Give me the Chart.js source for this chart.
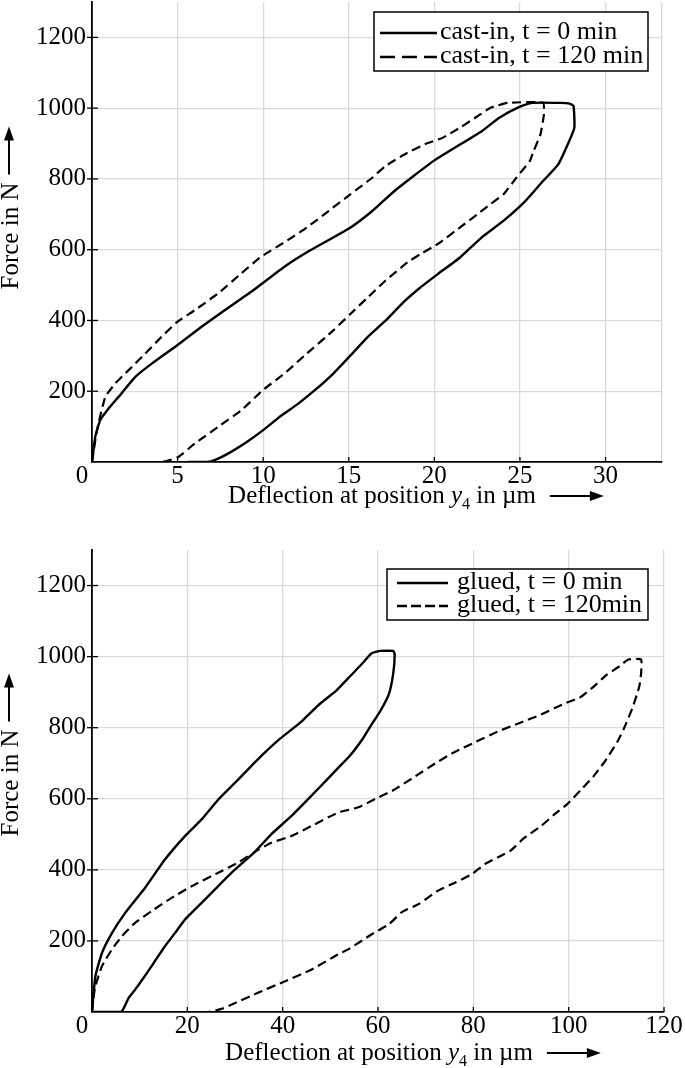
<!DOCTYPE html>
<html>
<head>
<meta charset="utf-8">
<script src="https://cdn.jsdelivr.net/npm/chart.js@4.4.0/dist/chart.umd.min.js"></script>
<style>
  html, body { margin: 0; padding: 0; background: #fff; }
  body { width: 685px; height: 1068px; position: relative; overflow: hidden; }
  canvas { position: absolute; left: 0; }
  #c1 { top: 0; }
  #c2 { top: 525px; }
</style>
</head>
<body>
<canvas id="c1" width="685" height="525"></canvas>
<canvas id="c2" width="685" height="543"></canvas>
<script>
// ---------- DATA ----------
const topLabels = ['cast-in, t = 0 min', 'cast-in, t = 120 min'];
const bottomLabels = ['glued, t = 0 min', 'glued, t = 120min'];

const topXTicks = [0, 5, 10, 15, 20, 25, 30];
const topXMax = 33.3;
const bottomXTicks = [0, 20, 40, 60, 80, 100, 120];
const bottomXMax = 120;
const yTicks = [0, 200, 400, 600, 800, 1000, 1200];
const yMax = 1300;

// cast-in, t = 0 min  [deflection µm, force N]
const castIn0 = [[0,0],[0.19,71],[0.48,118],[0.97,151],[1.55,184],[2.52,240],[3.49,278],[4.98,330],[6.4,382],[7.75,429],[9.3,481],[11.24,552],[12.56,593],[15.11,663],[16.39,710],[17.67,766],[19.96,851],[22.77,935],[23.79,973],[24.94,1003],[25.7,1015],[27.37,1015],[27.9,1013],[28.13,1006],[28.18,945],[27.88,907],[27.24,841],[26.35,794],[25.33,738],[24.05,682],[22.77,635],[21.5,578],[20.2,531],[19.2,494],[18.2,452],[17.16,400],[16.1,353],[15.1,301],[14.1,250],[13.07,205],[12.05,165],[11.03,130],[10.0,90],[9.0,55],[8.0,25],[7.2,6],[6.7,0],[5.6,0]];
// cast-in, t = 120 min
const castIn120 = [[0,0],[0.29,90],[0.78,184],[1.36,222],[2.13,259],[3.1,306],[4.07,354],[4.98,396],[6.0,429],[7.36,476],[8.72,533],[9.88,580],[11.28,622],[12.56,663],[13.84,710],[15.11,757],[16.39,804],[17.16,837],[18.43,874],[19.45,898],[20.47,916],[21.5,945],[22.52,977],[23.28,1001],[24.3,1015],[26.35,1015],[26.4,982],[26.2,926],[25.8,879],[25.58,851],[24.8,804],[24.05,757],[23.28,729],[22.52,700],[21.5,663],[20.2,616],[19.2,588],[18.43,564],[17.16,513],[16.13,466],[15.11,419],[14.1,372],[12.4,300],[11.24,250],[9.98,203],[8.72,146],[7.36,99],[6.0,52],[5.04,14],[4.3,2],[3.9,0]];
// glued, t = 0 min
const glued0 = [[0,0],[0.7,100],[2.09,166],[4.18,222],[6.97,279],[11.1,349],[15.3,429],[19.5,495],[23.0,542],[26.5,598],[30.0,645],[34.8,711],[39.45,769],[44.0,818],[47.7,866],[51.3,905],[54.1,944],[56.8,982],[58.6,1009],[60.5,1016],[63.2,1016],[63.5,1006],[63.2,953],[62.3,895],[60.5,847],[58.6,808],[56.8,769],[54.1,721],[51.3,682],[48.6,644],[46.0,608],[41.8,551],[37.6,500],[34.1,450],[29.3,392],[25.8,345],[23.0,307],[19.5,260],[17.4,222],[15.3,185],[12.5,129],[10.5,90],[9.05,63],[7.66,39],[6.1,0],[0,0]];
// glued, t = 120 min
const glued120 = [[0,0],[0.3,40],[0.7,72],[2.09,129],[4.18,176],[6.27,213],[9.05,251],[12.5,284],[16.7,321],[20.9,354],[26.5,392],[30.6,420],[34.1,450],[37.6,476],[41.8,495],[46.0,523],[51.6,561],[55.9,576],[59.5,600],[63.2,624],[67.8,663],[72.3,702],[76.0,731],[80.5,760],[85.1,789],[89.7,813],[94.2,837],[98.8,866],[102.5,886],[105.2,915],[107.9,948],[110.7,973],[112.5,992],[115.2,992],[115.2,953],[114.8,915],[113.4,856],[111.6,798],[110.2,760],[107.9,711],[105.2,663],[102.5,624],[99.7,585],[97.0,556],[94.2,523],[90.6,489],[87.9,455],[85.1,435],[82.4,416],[79.6,387],[76.0,363],[72.3,339],[68.7,305],[65.0,281],[62.3,247],[58.6,218],[54.1,179],[51.6,162],[46.0,119],[40.4,86],[34.8,54],[30.0,25],[27.0,8],[24.4,0],[14.6,0]];

// ---------- DRAWING ----------
const FONT = "'Liberation Serif', 'Times New Roman', serif";
const toPts = arr => arr.map(p => ({x: p[0], y: p[1]}));

function arrowHead(ctx, x, y) {
  ctx.beginPath(); ctx.moveTo(x, y); ctx.lineTo(x - 14, y - 5); ctx.lineTo(x - 14, y + 5); ctx.closePath(); ctx.fill();
}

const decor = {
  id: 'decor',
  afterDraw(chart, args, o) {
    const ctx = chart.ctx, a = chart.chartArea;
    const xs = chart.scales.x, ys = chart.scales.y;
    ctx.save();
    // tick marks
    ctx.strokeStyle = '#000'; ctx.lineWidth = 1.3;
    o.xTicks.forEach(v => {
      const px = xs.getPixelForValue(v);
      ctx.beginPath(); ctx.moveTo(px, a.bottom); ctx.lineTo(px, a.bottom - 5); ctx.stroke();
    });
    o.yTicks.forEach(v => {
      if (v === 0) return;
      const py = ys.getPixelForValue(v);
      ctx.beginPath(); ctx.moveTo(a.left - 5, py); ctx.lineTo(a.left + 6, py); ctx.stroke();
    });
    // origin label, set slightly left of the corner
    ctx.fillStyle = '#000';
    ctx.font = '25px ' + FONT;
    ctx.textAlign = 'center'; ctx.textBaseline = 'alphabetic';
    ctx.fillText(String(o.xTicks[0]), a.left - 10, a.bottom + 21);
    // legend box
    const L = o.legend;
    ctx.fillStyle = '#fff';
    ctx.fillRect(L.x0, L.y0, L.x1 - L.x0, L.y1 - L.y0);
    ctx.strokeStyle = '#000'; ctx.lineWidth = 1.5;
    ctx.strokeRect(L.x0, L.y0, L.x1 - L.x0, L.y1 - L.y0);
    chart.data.datasets.forEach((ds, i) => {
      const ly = L.rows[i];
      ctx.setLineDash(i === 0 ? [] : L.dash);
      ctx.lineWidth = 2.3;
      ctx.beginPath(); ctx.moveTo(L.lx0, ly); ctx.lineTo(L.lx1, ly); ctx.stroke();
      ctx.setLineDash([]);
      ctx.fillStyle = '#000';
      ctx.font = '26px ' + FONT;
      ctx.textAlign = 'left'; ctx.textBaseline = 'alphabetic';
      ctx.fillText(ds.label, L.tx, ly + 6);
    });
    // x axis title with italic y and subscript 4
    ctx.fillStyle = '#000';
    ctx.textBaseline = 'alphabetic'; ctx.textAlign = 'left';
    const parts = [
      {t: 'Deflection at position ', f: '25px ' + FONT, dy: 0},
      {t: 'y', f: 'italic 25px ' + FONT, dy: 0},
      {t: '4', f: '16px ' + FONT, dy: 6},
      {t: ' in \u00B5m', f: '25px ' + FONT, dy: 0}
    ];
    let w = 0;
    parts.forEach(p => { ctx.font = p.f; p.w = ctx.measureText(p.t).width; w += p.w; });
    let x = o.xTitle.cx - w / 2;
    const by = o.xTitle.base;
    parts.forEach(p => { ctx.font = p.f; ctx.fillText(p.t, x, by + p.dy); x += p.w; });
    const ax0 = x + 14, ax1 = x + 68, ay = by - 7;
    ctx.strokeStyle = '#000'; ctx.lineWidth = 2;
    ctx.beginPath(); ctx.moveTo(ax0, ay); ctx.lineTo(ax1 - 10, ay); ctx.stroke();
    arrowHead(ctx, ax1, ay);
    // y axis title
    ctx.save();
    ctx.translate(o.yTitle.base, o.yTitle.cy);
    ctx.rotate(-Math.PI / 2);
    ctx.font = '25px ' + FONT;
    ctx.textAlign = 'center';
    const tw = ctx.measureText('Force in N').width;
    ctx.fillText('Force in N', 0, 0);
    const yy = -9;
    const s0 = tw / 2 + 8, s1 = tw / 2 + 56;
    ctx.beginPath(); ctx.moveTo(s0, yy); ctx.lineTo(s1 - 10, yy); ctx.stroke();
    arrowHead(ctx, s1, yy);
    ctx.restore();
    ctx.restore();
  }
};

function zeroPad(s) { s.paddingTop = 0; s.paddingBottom = 0; s.paddingLeft = 0; s.paddingRight = 0; }

function makeChart(id, cfg) {
  const mkTicks = vals => scale => { scale.ticks = vals.map(v => ({value: v})); };
  const xTickVals = cfg.xTicks.includes(cfg.xMax) ? cfg.xTicks : cfg.xTicks.concat([cfg.xMax]);
  const yTickVals = yTicks.concat([yMax]);
  return new Chart(document.getElementById(id), {
    type: 'scatter',
    data: {
      datasets: cfg.series.map((s, i) => ({
        label: cfg.labels[i],
        data: toPts(s),
        showLine: true,
        borderColor: '#000',
        borderWidth: i === 0 ? 2.4 : 2.2,
        borderDash: i === 0 ? [] : [9, 5],
        pointRadius: 0,
        tension: 0.15,
        fill: false
      }))
    },
    options: {
      responsive: false,
      animation: false,
      devicePixelRatio: 1,
      layout: { padding: { left: 0, right: cfg.padRight, top: cfg.areaTop, bottom: 0 } },
      plugins: {
        legend: { display: false },
        tooltip: { enabled: false },
        decor: {
          xTicks: cfg.xTicks, yTicks: yTicks,
          legend: cfg.legend, xTitle: cfg.xTitle, yTitle: cfg.yTitle
        }
      },
      scales: {
        x: {
          type: 'linear', min: 0, max: cfg.xMax,
          afterBuildTicks: mkTicks(xTickVals),
          afterFit: s => { s.height = cfg.xAxisH; zeroPad(s); },
          border: { color: '#000', width: 1.8 },
          grid: { color: '#d9d9d9', lineWidth: 1.3, drawTicks: false },
          ticks: {
            padding: -1, maxRotation: 0, autoSkip: false,
            color: '#000', font: { family: FONT, size: 25 },
            callback: v => (cfg.xTicks.includes(v) && v !== 0) ? String(v) : ''
          }
        },
        y: {
          type: 'linear', min: 0, max: yMax,
          afterBuildTicks: mkTicks(yTickVals),
          afterFit: s => { s.width = 92; zeroPad(s); },
          border: { color: '#000', width: 1.8 },
          grid: { color: '#d9d9d9', lineWidth: 1.3, drawTicks: false },
          ticks: {
            padding: 6, autoSkip: false,
            color: '#000', font: { family: FONT, size: 25 },
            callback: v => (v === 0 || v === yMax) ? null : String(v)
          }
        }
      }
    },
    plugins: [decor]
  });
}

makeChart('c1', {
  labels: topLabels, series: [castIn0, castIn120],
  xTicks: topXTicks, xMax: topXMax,
  areaTop: 2, padRight: 23, xAxisH: 525 - 462,
  legend: { x0: 374, y0: 12, x1: 648, y1: 71, rows: [33, 57], lx0: 380, lx1: 437, tx: 440, dash: [15, 7] },
  xTitle: { cx: 382, base: 503 },
  yTitle: { base: 18, cy: 236 }
});

makeChart('c2', {
  labels: bottomLabels, series: [glued0, glued120],
  xTicks: bottomXTicks, xMax: bottomXMax,
  areaTop: 25, padRight: 21, xAxisH: 543 - 487,
  legend: { x0: 387, y0: 44, x1: 648, y1: 95, rows: [58, 81], lx0: 397, lx1: 448, tx: 457, dash: [10, 4] },
  xTitle: { cx: 379, base: 535 },
  yTitle: { base: 18, cy: 258 }
});
</script>
</body>
</html>
